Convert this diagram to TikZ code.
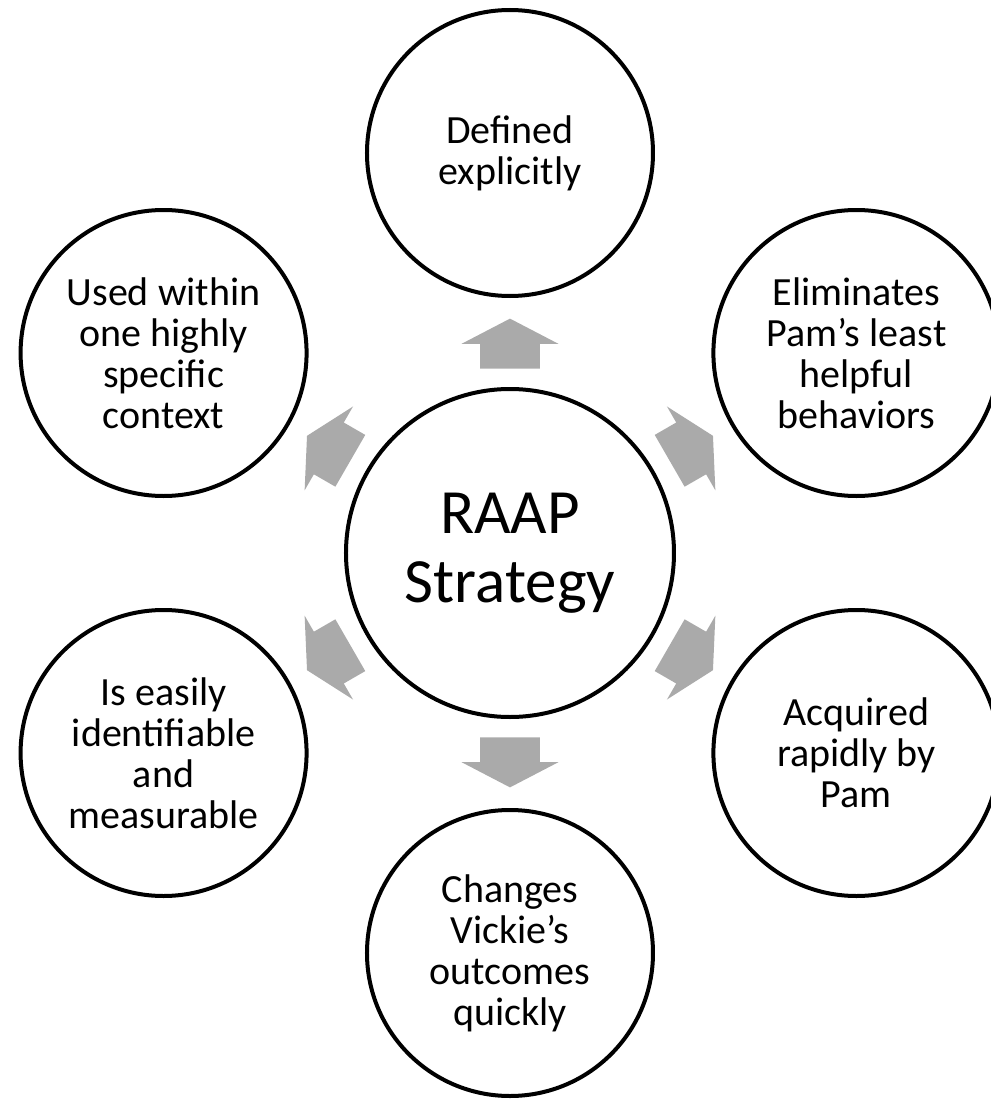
\documentclass[tikz,border=0pt]{standalone}
\usepackage{fontspec}
\setmainfont{Carlito}
\usetikzlibrary{shapes.arrows}
\definecolor{arrowgray}{RGB}{170,170,170}

\begin{document}
\begin{tikzpicture}
    \tikzstyle{bubble}=[draw, circle, line width=2pt, minimum size=143pt, inner sep=0pt, align=center, font=\fontsize{20pt}{20.5pt}\selectfont]
    \tikzstyle{flow}=[single arrow, fill=arrowgray, sloped, allow upside down, pos=0.4, minimum height=25pt, single arrow head extend=9.25pt, single arrow tip angle=125, inner xsep=0pt, inner ysep=14.75pt]

    \useasboundingbox (-255pt, -273pt) rectangle (240.5pt, 276.5pt);

    \node[bubble, minimum size=164pt, font=\fontsize{31.5pt}{34.5pt}\selectfont] (raap) at (0, 0) {RAAP\\Strategy};

    \node[bubble] (defined) at (90:200pt) {Defined\\explicitly};
    \node[bubble] (elim) at (30:200pt) {Eliminates\\Pam’s least\\helpful\\behaviors};
    \node[bubble] (acquired) at (-30:200pt) {Acquired\\rapidly by\\Pam};
    \node[bubble] (changes) at (-90:200pt) {Changes\\Vickie’s\\outcomes\\quickly};
    \node[bubble] (measure) at (210:200pt) {Is easily\\identifiable\\and\\measurable};
    \node[bubble] (context) at (150:200pt) {Used within\\one highly\\specific\\context};

    \path (raap) -- node[flow] (arr1) {} (defined);
    \path (raap) -- node[flow] (arr2) {} (elim);
    \path (raap) -- node[flow] (arr3) {} (acquired);
    \path (raap) -- node[flow] (arr4) {} (changes);
    \path (raap) -- node[flow] (arr5) {} (measure);
    \path (raap) -- node[flow] (arr6) {} (context);
\end{tikzpicture}
\end{document}
